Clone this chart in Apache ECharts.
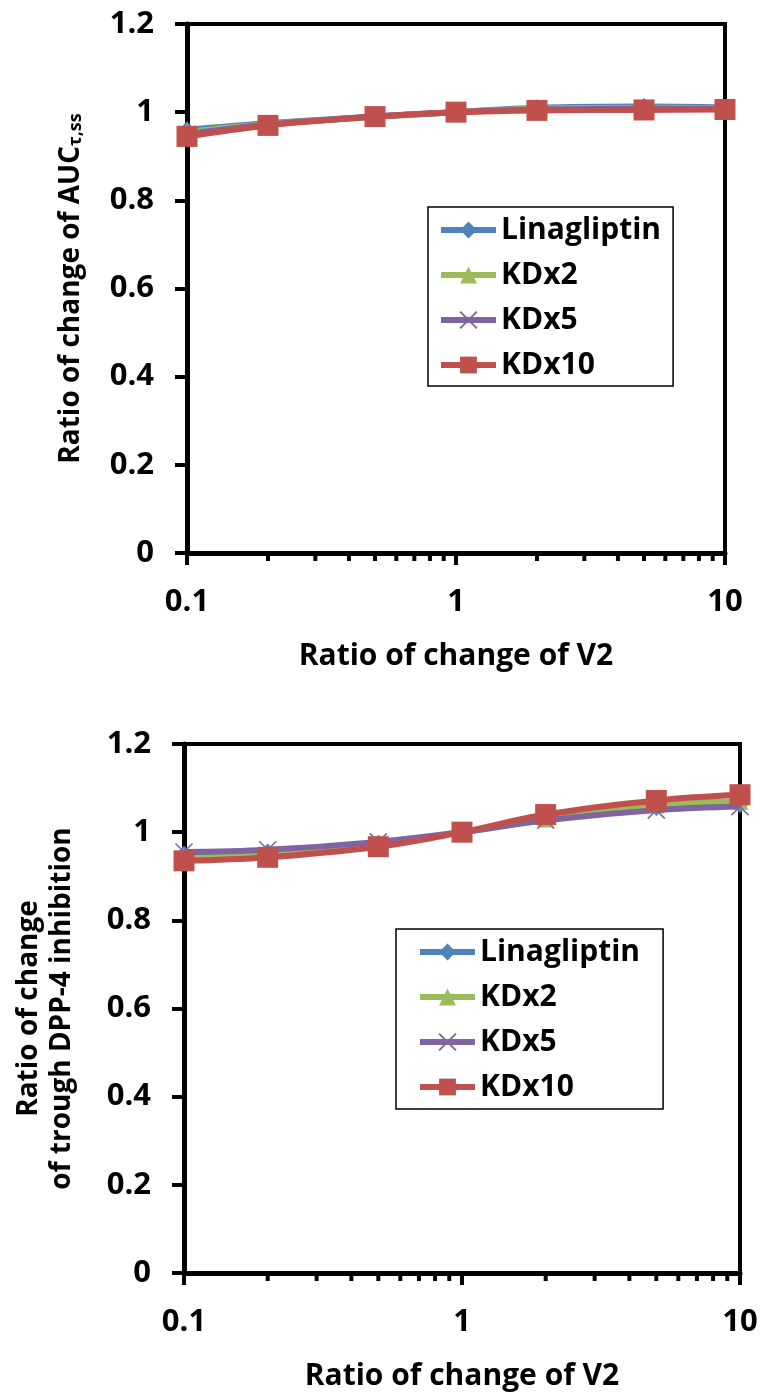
<!DOCTYPE html>
<html>
<head>
<meta charset="utf-8">
<script src="https://cdn.jsdelivr.net/npm/echarts@6/dist/echarts.min.js"></script>
<style>
  html, body { margin: 0; padding: 0; background: #fff; }
  #chart { width: 764px; height: 1396px; }
</style>
</head>
<body>
<div id="chart"></div>
<script>
// ratio of change of V2 (log axis)
var v2Ratios = [0.1, 0.2, 0.5, 1, 2, 5, 10];
var minorTicks = [0.2, 0.3, 0.4, 0.5, 0.6, 0.7, 0.8, 0.9, 2, 3, 4, 5, 6, 7, 8, 9];
var yTicks = [0, 0.2, 0.4, 0.6, 0.8, 1, 1.2];
var seriesNames = ['Linagliptin', 'KDx2', 'KDx5', 'KDx10'];

// top panel: AUC tau,ss
var aucLinagliptin = [0.960, 0.975, 0.990, 1.000, 1.010, 1.013, 1.011];
var aucKDx2        = [0.955, 0.973, 0.989, 1.000, 1.008, 1.010, 1.009];
var aucKDx5        = [0.950, 0.972, 0.990, 1.000, 1.006, 1.008, 1.008];
var aucKDx10       = [0.945, 0.970, 0.990, 1.000, 1.004, 1.005, 1.006];

// bottom panel: trough DPP-4 inhibition
var dppLinagliptin = [0.950, 0.955, 0.975, 1.000, 1.030, 1.056, 1.063];
var dppKDx2        = [0.945, 0.950, 0.972, 1.000, 1.030, 1.062, 1.070];
var dppKDx5        = [0.955, 0.960, 0.978, 1.000, 1.027, 1.050, 1.058];
var dppKDx10       = [0.935, 0.943, 0.967, 1.000, 1.040, 1.072, 1.085];

var FONT = '"Open Sans", "Liberation Sans", sans-serif';
var colors = ['#4F81BD', '#9BBB59', '#8064A2', '#C0504D'];
var symbols = ['diamond', 'triangle', 'path://M0,0 L10,10 M10,0 L0,10', 'rect'];
var symbolSizes = [17, 17, 17, 21];

function pairs(vals) {
  return v2Ratios.map(function (x, i) { return [x, vals[i]]; });
}

function lineSeries(idx, vals, k) {
  var isCross = k === 2;
  return {
    name: seriesNames[k],
    type: 'line',
    xAxisIndex: idx, yAxisIndex: idx,
    data: pairs(vals),
    smooth: 0.4,
    symbol: symbols[k],
    symbolSize: symbolSizes[k],
    lineStyle: { color: colors[k], width: 6 },
    itemStyle: isCross
      ? { color: 'rgba(0,0,0,0)', borderColor: colors[k], borderWidth: 1.5 }
      : { color: colors[k] },
    z: 3 + k
  };
}

function minorTickSeries(idx) {
  return {
    type: 'custom',
    xAxisIndex: idx, yAxisIndex: idx,
    silent: true,
    clip: false,
    data: minorTicks.map(function (v) { return [v, 0]; }),
    renderItem: function (params, api) {
      var p = api.coord([api.value(0), 0]);
      return {
        type: 'line',
        shape: { x1: p[0], y1: p[1], x2: p[0], y2: p[1] + 8 },
        style: { stroke: '#000', lineWidth: 4 }
      };
    },
    z: 10
  };
}

function xAxis(idx) {
  return {
    type: 'log', gridIndex: idx, logBase: 10, min: 0.1, max: 10,
    name: 'Ratio of change of V2',
    nameLocation: 'middle', nameGap: 88,
    nameTextStyle: { fontFamily: FONT, fontWeight: 'bold', fontSize: 30, color: '#000' },
    axisLine: { lineStyle: { color: '#000', width: 5 } },
    axisTick: { show: true, length: 12, lineStyle: { color: '#000', width: 4 } },
    axisLabel: { fontFamily: FONT, fontWeight: 'bold', fontSize: 31, color: '#000', margin: 34 },
    splitLine: { show: false },
    minorTick: { show: false }
  };
}

function yAxis(idx, nameCfg) {
  return Object.assign({
    type: 'value', gridIndex: idx, min: 0, max: 1.2, interval: 0.2,
    nameLocation: 'middle',
    axisLine: { lineStyle: { color: '#000', width: 5 } },
    axisTick: { show: true, length: 12, lineStyle: { color: '#000', width: 4 } },
    axisLabel: {
      fontFamily: FONT, fontWeight: 'bold', fontSize: 31, color: '#000', margin: 33,
      formatter: function (v) {
        var s = String(Math.round(v * 10) / 10);
        return yTicks.indexOf(Number(s)) >= 0 ? s : '';
      }
    },
    splitLine: { show: false }
  }, nameCfg);
}

function legend(left, top, padding) {
  return {
    show: true,
    orient: 'vertical',
    left: left, top: top,
    data: seriesNames.slice(),
    itemWidth: 55, itemHeight: 21, itemGap: 11,
    padding: padding,
    borderColor: '#000', borderWidth: 1.5,
    backgroundColor: '#fff',
    selectedMode: false,
    lineStyle: { width: 6 },
    textStyle: { fontFamily: FONT, fontWeight: 'bold', fontSize: 30, color: '#000', lineHeight: 34 }
  };
}

var chart = echarts.init(document.getElementById('chart'), null, { renderer: 'canvas' });

var series = [];
[aucLinagliptin, aucKDx2, aucKDx5, aucKDx10].forEach(function (v, k) { series.push(lineSeries(0, v, k)); });
[dppLinagliptin, dppKDx2, dppKDx5, dppKDx10].forEach(function (v, k) { series.push(lineSeries(1, v, k)); });
series.push(minorTickSeries(0));
series.push(minorTickSeries(1));

chart.setOption({
  animation: false,
  backgroundColor: '#fff',
  grid: [
    { left: 187, top: 24, width: 538, height: 529, show: true, borderColor: '#000', borderWidth: 4, backgroundColor: 'transparent' },
    { left: 184, top: 744, width: 556, height: 529, show: true, borderColor: '#000', borderWidth: 4, backgroundColor: 'transparent' }
  ],
  legend: [
    legend(428, 207, [6, 12, 4, 10]),
    legend(396, 929, [6, 23, 5, 21])
  ],
  xAxis: [xAxis(0), xAxis(1)],
  yAxis: [
    yAxis(0, {
      name: '{m|Ratio of change of AUC}{s|τ,ss}',
      nameGap: 102,
      nameTextStyle: {
        rich: {
          m: { fontFamily: FONT, fontWeight: 'bold', fontSize: 28, color: '#000', verticalAlign: 'bottom', lineHeight: 34 },
          s: { fontFamily: FONT, fontWeight: 'bold', fontSize: 18, color: '#000', verticalAlign: 'bottom', lineHeight: 26 }
        }
      }
    }),
    yAxis(1, {
      name: 'Ratio of change\nof trough DPP-4 inhibition',
      nameGap: 105,
      nameTextStyle: { fontFamily: FONT, fontWeight: 'bold', fontSize: 28, color: '#000', lineHeight: 33 }
    })
  ],
  series: series
});
</script>
</body>
</html>
